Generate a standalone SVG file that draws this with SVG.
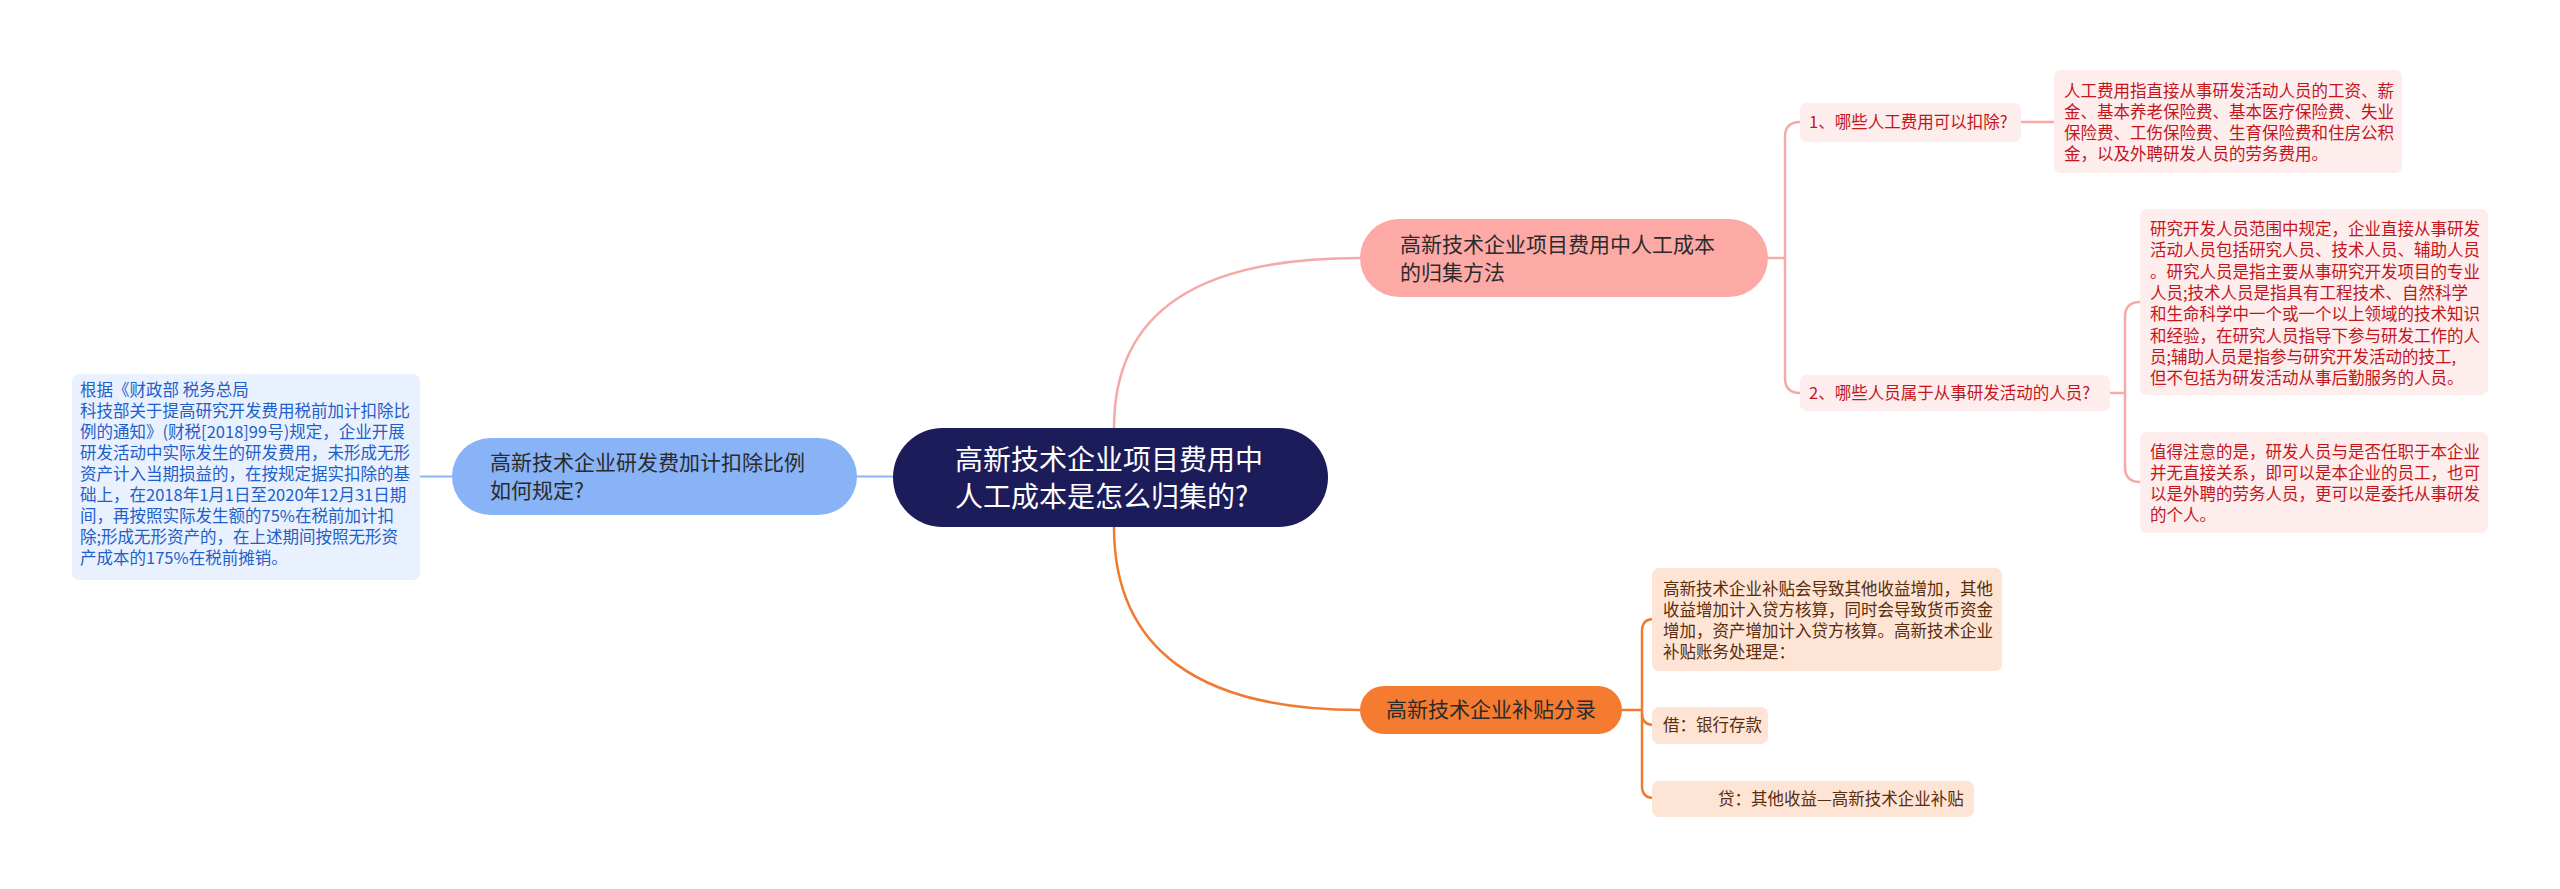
<svg xmlns="http://www.w3.org/2000/svg" width="2560" height="889" viewBox="0 0 2560 889">
<style>
text{font-family:"Noto Sans CJK SC","Noto Sans",sans-serif}
.sm{font-size:16.5px}
.md{font-size:21px;fill:#2b2b2b}
.lg{font-size:28px;fill:#ffffff}
.blue{fill:#1f5fc9}
.red{fill:#c3161c}
.brown{fill:#5a2d0c}
.cb{fill:none;stroke:#8ab4f8;stroke-width:2}
.cp{fill:none;stroke:#f5aaa8;stroke-width:2.5}
.co{fill:none;stroke:#ef7a30;stroke-width:2.5}
</style>
<rect width="2560" height="889" fill="#ffffff"/>
<g id="connectors">
<path class="cb" d="M857,476.5 H893"/>
<path class="cb" d="M420,476.5 H452"/>
<path class="cp" d="M1114,428 C1114,310 1200,258 1360,258"/>
<path class="cp" d="M1768,258 H1785"/>
<path class="cp" d="M1800,122 Q1785,122 1785,137 V378 Q1785,393 1800,393"/>
<path class="cp" d="M2021,122 H2054"/>
<path class="cp" d="M2110,393 H2125"/>
<path class="cp" d="M2140,302 Q2125,302 2125,317 V467 Q2125,482 2140,482"/>
<path class="co" d="M1114,527 C1114,650 1200,710 1360,710"/>
<path class="co" d="M1622,710 H1642"/>
<path class="co" d="M1654,619 Q1642,619 1642,631 V786 Q1642,798 1654,798"/>
<path class="co" d="M1642,713 Q1642,725 1654,725"/>
</g>
<g id="root">
<rect x="893" y="428" width="435" height="99" rx="49.5" fill="#1d1c5a"/>
<text class="lg" x="955" y="470">高新技术企业项目费用中</text>
<text class="lg" x="955" y="507">人工成本是怎么归集的?</text>
</g>
<g id="left-branch">
<rect x="452" y="438" width="405" height="77" rx="38.5" fill="#88b3f7"/>
<text class="md" x="490" y="470">高新技术企业研发费加计扣除比例</text>
<text class="md" x="490" y="498">如何规定?</text>
</g>
<g id="left-leaf">
<rect x="72" y="374" width="348" height="206" rx="7" fill="#e9f1fe"/>
<text class="sm blue" x="80" y="396">根据《财政部 税务总局</text>
<text class="sm blue" x="80" y="417">科技部关于提高研究开发费用税前加计扣除比</text>
<text class="sm blue" x="80" y="438">例的通知》(财税[2018]99号)规定，企业开展</text>
<text class="sm blue" x="80" y="459">研发活动中实际发生的研发费用，未形成无形</text>
<text class="sm blue" x="80" y="480">资产计入当期损益的，在按规定据实扣除的基</text>
<text class="sm blue" x="80" y="501">础上，在2018年1月1日至2020年12月31日期</text>
<text class="sm blue" x="80" y="522">间，再按照实际发生额的75%在税前加计扣</text>
<text class="sm blue" x="80" y="543">除;形成无形资产的，在上述期间按照无形资</text>
<text class="sm blue" x="80" y="564">产成本的175%在税前摊销。</text>
</g>
<g id="pink-branch">
<rect x="1360" y="219" width="408" height="78" rx="39" fill="#fdaaa7"/>
<text class="md" x="1400" y="252">高新技术企业项目费用中人工成本</text>
<text class="md" x="1400" y="280">的归集方法</text>
</g>
<g id="q1">
<rect x="1800" y="103" width="221" height="39" rx="7" fill="#fdeded"/>
<text class="sm red" x="1809" y="128">1、哪些人工费用可以扣除?</text>
</g>
<g id="q1-leaf">
<rect x="2054" y="70" width="348" height="103" rx="7" fill="#fdeded"/>
<text class="sm red" x="2064" y="97">人工费用指直接从事研发活动人员的工资、薪</text>
<text class="sm red" x="2064" y="118">金、基本养老保险费、基本医疗保险费、失业</text>
<text class="sm red" x="2064" y="139">保险费、工伤保险费、生育保险费和住房公积</text>
<text class="sm red" x="2064" y="160">金，以及外聘研发人员的劳务费用。</text>
</g>
<g id="q2">
<rect x="1800" y="375" width="310" height="36" rx="7" fill="#fdeded"/>
<text class="sm red" x="1809" y="399">2、哪些人员属于从事研发活动的人员?</text>
</g>
<g id="q2-leaf-a">
<rect x="2140" y="209" width="348" height="186" rx="7" fill="#fdeded"/>
<text class="sm red" x="2150" y="235">研究开发人员范围中规定，企业直接从事研发</text>
<text class="sm red" x="2150" y="256">活动人员包括研究人员、技术人员、辅助人员</text>
<text class="sm red" x="2150" y="278">。研究人员是指主要从事研究开发项目的专业</text>
<text class="sm red" x="2150" y="299">人员;技术人员是指具有工程技术、自然科学</text>
<text class="sm red" x="2150" y="320">和生命科学中一个或一个以上领域的技术知识</text>
<text class="sm red" x="2150" y="342">和经验，在研究人员指导下参与研发工作的人</text>
<text class="sm red" x="2150" y="363">员;辅助人员是指参与研究开发活动的技工,</text>
<text class="sm red" x="2150" y="384">但不包括为研发活动从事后勤服务的人员。</text>
</g>
<g id="q2-leaf-b">
<rect x="2140" y="432" width="348" height="101" rx="7" fill="#fdeded"/>
<text class="sm red" x="2150" y="458">值得注意的是，研发人员与是否任职于本企业</text>
<text class="sm red" x="2150" y="479">并无直接关系，即可以是本企业的员工，也可</text>
<text class="sm red" x="2150" y="500">以是外聘的劳务人员，更可以是委托从事研发</text>
<text class="sm red" x="2150" y="521">的个人。</text>
</g>
<g id="orange-branch">
<rect x="1360" y="686" width="262" height="48" rx="24" fill="#f47b30"/>
<text class="md" x="1491" y="717" text-anchor="middle">高新技术企业补贴分录</text>
</g>
<g id="orange-leaf-1">
<rect x="1652" y="568" width="350" height="103" rx="7" fill="#fde4d5"/>
<text class="sm brown" x="1663" y="595">高新技术企业补贴会导致其他收益增加，其他</text>
<text class="sm brown" x="1663" y="616">收益增加计入贷方核算，同时会导致货币资金</text>
<text class="sm brown" x="1663" y="637">增加，资产增加计入贷方核算。高新技术企业</text>
<text class="sm brown" x="1663" y="658">补贴账务处理是：</text>
</g>
<g id="orange-leaf-2">
<rect x="1652" y="707" width="116" height="37" rx="7" fill="#fde4d5"/>
<text class="sm brown" x="1663" y="731">借：银行存款</text>
</g>
<g id="orange-leaf-3">
<rect x="1652" y="781" width="322" height="36" rx="7" fill="#fde4d5"/>
<text class="sm brown" x="1718" y="805">贷：其他收益—高新技术企业补贴</text>
</g>
</svg>
